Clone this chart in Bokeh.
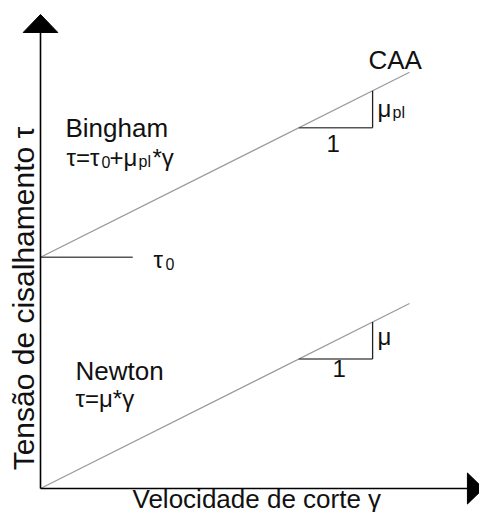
import math
from bokeh.plotting import figure
from bokeh.models import Range1d, Label
from bokeh.embed import file_html
from bokeh.resources import INLINE

# ---- schematic data (shear rate gamma, shear stress tau) ----
gamma = [0, 10]
newton_tau = [0, 10]
bingham_tau = [12.5, 22.5]
tau0_x = [0, 2.5]
tau0_y = [12.5, 12.5]
bingham_tri_x = [7, 9, 9]
bingham_tri_y = [19.5, 19.5, 21.5]
newton_tri_x = [7, 9, 9]
newton_tri_y = [7, 7, 9]
yaxis_top = 24.65
xaxis_right = 11.57

W, H = 479, 512
SX, SY = 36.9, 18.5      # pixels per unit
X0, Y0 = 40, 24          # origin offset in pixels (left, bottom)
FONT = "Liberation Sans"

p = figure(width=W, height=H,
           x_range=Range1d(-X0 / SX, (W - X0) / SX),
           y_range=Range1d(-Y0 / SY, (H - Y0) / SY),
           x_axis_type=None, y_axis_type=None,
           toolbar_location=None, output_backend="svg",
           min_border=0, outline_line_color=None)
p.background_fill_color = "white"
p.border_fill_color = "white"

# curves
p.line(gamma, bingham_tau, line_color="#9a9a9a", line_width=1.2)
p.line(gamma, newton_tau, line_color="#9a9a9a", line_width=1.2)
p.line(tau0_x, tau0_y, line_color="#555555", line_width=1.3)

# slope triangles
for tx, ty in ((bingham_tri_x, bingham_tri_y), (newton_tri_x, newton_tri_y)):
    p.line(tx[:2], ty[:2], line_color="#555555", line_width=1.3)
    p.line(tx[1:], ty[1:], line_color="#222222", line_width=1.3)

# axes
p.line([0, 0], [0, yaxis_top], line_color="black", line_width=1.6)
p.line([0, xaxis_right], [0, 0], line_color="black", line_width=1.6)
p.patch([-17.3 / SX, 17.3 / SX, 0], [yaxis_top, yaxis_top, yaxis_top + 18 / SY],
        fill_color="black", line_color="black")
p.patch([xaxis_right, xaxis_right, xaxis_right + 16 / SX], [-15.5 / SY, 15.5 / SY, 0],
        fill_color="black", line_color="black")


def lab(text, px, py, size=26, **kw):
    p.add_layout(Label(x=px, y=H - py, x_units="screen", y_units="screen",
                       text=text, text_font=FONT, text_font_size=f"{size}px",
                       text_baseline="alphabetic", text_color="#111111", **kw))


lab("CAA", 368, 59)
lab("Bingham", 65, 127)
lab("τ=τ", 66, 157, 24)
lab("0", 101, 161, 16)
lab("+μ", 109, 157, 24)
lab("pl", 138, 161, 16)
lab("*γ", 152, 157, 24)

lab("Newton", 75, 370)
lab("τ=μ*γ", 75, 398, 24)

lab("τ", 153, 259, 24)
lab("0", 165, 263, 16)

lab("μ", 377, 108, 24)
lab("pl", 392, 112, 16)
lab("1", 326, 143, 24)

lab("μ", 377, 336, 24)
lab("1", 332, 368, 24)

lab("Velocidade de corte γ", 132, 498)
lab("Tensão de cisalhamento τ", 23, 298, 30, angle=math.pi / 2, text_align="center")

open("out.html", "w").write(file_html(p, INLINE))
